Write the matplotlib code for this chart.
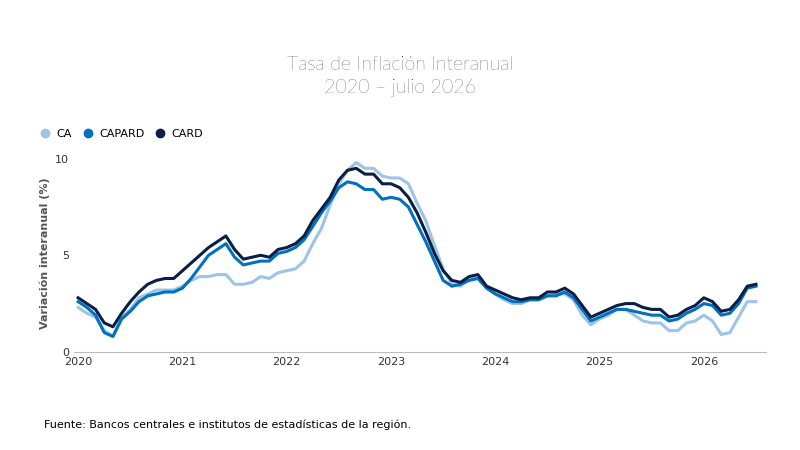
"""Tasa de inflación interanual CA / CAPARD / CARD, 2020 - julio 2026."""
import matplotlib
matplotlib.use("Agg")
import matplotlib.pyplot as plt
import numpy as np
from matplotlib.lines import Line2D

FIG_BG = "#ffffff"
C_CA, C_CAPARD, C_CARD = "#9dc3e6", "#0070c0", "#0b1f44"

# monthly series, Jan 2020 .. Jul 2026
CARD = [2.8, 2.5, 2.2, 1.5, 1.3, 2.0, 2.6, 3.1, 3.5, 3.7, 3.8, 3.8,
        4.2, 4.6, 5.0, 5.4, 5.7, 6.0, 5.3, 4.8, 4.9, 5.0, 4.9, 5.3,
        5.4, 5.6, 6.0, 6.8, 7.4, 8.0, 8.9, 9.4, 9.5, 9.2, 9.2, 8.7,
        8.7, 8.5, 8.0, 7.2, 6.2, 5.1, 4.2, 3.7, 3.6, 3.9, 4.0, 3.4,
        3.2, 3.0, 2.8, 2.7, 2.8, 2.8, 3.1, 3.1, 3.3, 3.0, 2.4, 1.8,
        2.0, 2.2, 2.4, 2.5, 2.5, 2.3, 2.2, 2.2, 1.8, 1.9, 2.2, 2.4,
        2.8, 2.6, 2.1, 2.2, 2.7, 3.4, 3.5]
CAPARD = [2.6, 2.3, 1.9, 1.0, 0.8, 1.7, 2.1, 2.6, 2.9, 3.0, 3.1, 3.1,
          3.3, 3.8, 4.4, 5.0, 5.3, 5.6, 4.9, 4.5, 4.6, 4.7, 4.7, 5.1,
          5.2, 5.4, 5.8, 6.5, 7.2, 7.8, 8.5, 8.8, 8.7, 8.4, 8.4, 7.9,
          8.0, 7.9, 7.5, 6.6, 5.7, 4.7, 3.7, 3.4, 3.5, 3.7, 3.8, 3.3,
          3.0, 2.8, 2.6, 2.6, 2.7, 2.7, 2.9, 2.9, 3.1, 2.8, 2.2, 1.6,
          1.8, 2.0, 2.2, 2.2, 2.1, 2.0, 1.9, 1.9, 1.6, 1.7, 2.0, 2.2,
          2.5, 2.4, 1.9, 2.0, 2.5, 3.3, 3.4]
CA = [2.3, 2.0, 1.8, 1.1, 0.8, 1.8, 2.2, 2.8, 3.0, 3.2, 3.2, 3.2,
      3.4, 3.7, 3.9, 3.9, 4.0, 4.0, 3.5, 3.5, 3.6, 3.9, 3.8, 4.1,
      4.2, 4.3, 4.7, 5.6, 6.4, 7.6, 8.7, 9.4, 9.8, 9.5, 9.5, 9.1,
      9.0, 9.0, 8.7, 7.7, 6.8, 5.5, 4.3, 3.5, 3.4, 3.8, 3.8, 3.3,
      3.0, 2.7, 2.5, 2.5, 2.7, 2.7, 2.9, 3.0, 3.0, 2.7, 1.9, 1.4,
      1.7, 1.9, 2.2, 2.2, 1.9, 1.6, 1.5, 1.5, 1.1, 1.1, 1.5, 1.6,
      1.9, 1.6, 0.9, 1.0, 1.8, 2.6, 2.6]
x = 2020 + np.arange(len(CARD)) / 12

fig, ax = plt.subplots(figsize=(8, 4.5), dpi=100)
fig.patch.set_facecolor(FIG_BG)
fig.subplots_adjust(left=0.0925, right=0.958, top=0.656, bottom=0.218)

ax.plot(x, CA, color=C_CA, lw=2.2)
ax.plot(x, CAPARD, color=C_CAPARD, lw=2.2)
ax.plot(x, CARD, color=C_CARD, lw=2.2)

ax.set_xlim(2019.96, 2026.6); ax.set_ylim(0, 10.2)
ax.set_yticks([0, 5, 10]); ax.set_xticks(range(2020, 2027))
ax.tick_params(labelsize=8, colors="#333", length=0)
for s in ["top", "right", "left"]:
    ax.spines[s].set_visible(False)
ax.spines["bottom"].set_color("#bbb")
ax.set_ylabel("Variación interanual (%)", fontsize=8, color="#555", weight="bold")

# title + legend
fig.text(0.5, 0.83, "Tasa de Inflación Interanual\n2020 – julio 2026", ha="center", va="center",
         fontsize=14, family="Lato", weight="light", linespacing=1.3)
handles = [Line2D([], [], marker="o", ls="", color=c, markersize=6) for c in (C_CA, C_CAPARD, C_CARD)]
fig.legend(handles, ["CA", "CAPARD", "CARD"], loc="upper left", bbox_to_anchor=(0.03, 0.735),
           ncol=3, frameon=False, fontsize=8, handletextpad=0.05, columnspacing=0.4)

fig.text(0.055, 0.05, "Fuente: Bancos centrales e institutos de estadísticas de la región.", fontsize=8)

plt.savefig("out.png", facecolor=FIG_BG)
